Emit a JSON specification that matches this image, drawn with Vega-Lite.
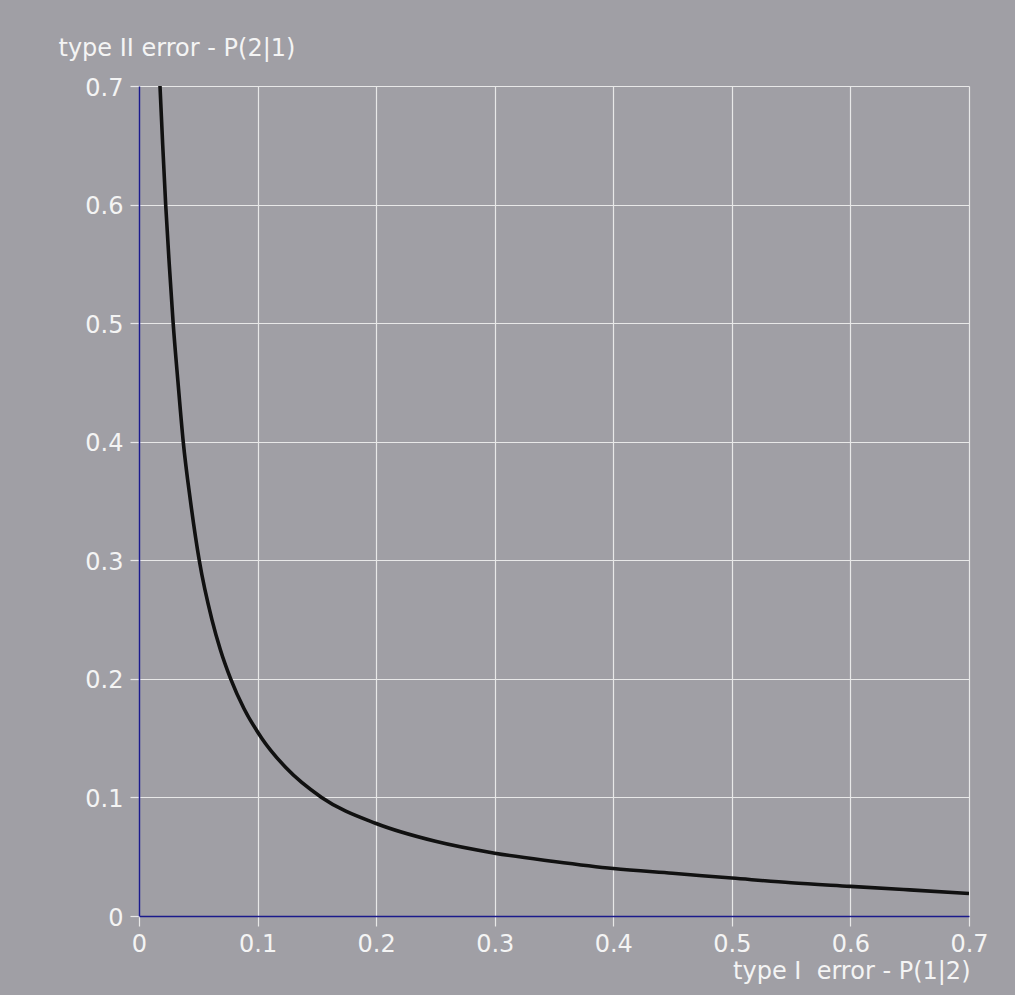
{
  "$schema": "https://vega.github.io/schema/vega-lite/v6.json",
  "width": 830,
  "height": 830,
  "autosize": "none",
  "padding": {"left": 139, "top": 86, "right": 46, "bottom": 79},
  "background": "#a09fa5",
  "config": {
    "view": {"stroke": null},
    "font": "DejaVu Sans",
    "axis": {
      "grid": true,
      "gridColor": "#e8e8e8",
      "gridWidth": 1.2,
      "gridOpacity": 1,
      "domainColor": "#1a1a8c",
      "domainWidth": 1.5,
      "tickColor": "#e8e8e8",
      "tickWidth": 1.2,
      "labelColor": "#f4f4f4",
      "labelFont": "DejaVu Sans",
      "labelFontSize": 24,
      "titleColor": "#f4f4f4",
      "titleFont": "DejaVu Sans",
      "titleFontSize": 24,
      "titleFontWeight": "normal"
    }
  },
  "data": {
    "values": [
      {"p12": 0.0177, "p21": 0.70},
      {"p12": 0.0200, "p21": 0.65},
      {"p12": 0.0225, "p21": 0.60},
      {"p12": 0.0255, "p21": 0.55},
      {"p12": 0.0288, "p21": 0.50},
      {"p12": 0.0329, "p21": 0.45},
      {"p12": 0.0373, "p21": 0.40},
      {"p12": 0.0434, "p21": 0.35},
      {"p12": 0.0508, "p21": 0.30},
      {"p12": 0.0615, "p21": 0.25},
      {"p12": 0.0685, "p21": 0.225},
      {"p12": 0.0773, "p21": 0.20},
      {"p12": 0.0885, "p21": 0.175},
      {"p12": 0.1035, "p21": 0.15},
      {"p12": 0.1240, "p21": 0.125},
      {"p12": 0.1540, "p21": 0.100},
      {"p12": 0.2000, "p21": 0.078},
      {"p12": 0.2500, "p21": 0.063},
      {"p12": 0.3000, "p21": 0.053},
      {"p12": 0.3500, "p21": 0.046},
      {"p12": 0.4000, "p21": 0.040},
      {"p12": 0.4500, "p21": 0.036},
      {"p12": 0.5000, "p21": 0.032},
      {"p12": 0.5500, "p21": 0.028},
      {"p12": 0.6000, "p21": 0.025},
      {"p12": 0.6500, "p21": 0.022},
      {"p12": 0.7000, "p21": 0.019}
    ]
  },
  "mark": {"type": "line", "color": "#111111", "strokeWidth": 3.6, "interpolate": "monotone", "clip": true},
  "encoding": {
    "x": {
      "field": "p12",
      "type": "quantitative",
      "scale": {"domain": [0, 0.7], "nice": false, "zero": false},
      "axis": {
        "values": [0, 0.1, 0.2, 0.3, 0.4, 0.5, 0.6, 0.7],
        "format": ".1~f",
        "tickSize": 10,
        "labelPadding": 6,
        "labelBaseline": "top",
        "labelFlush": false,
        "title": "type I\u00a0\u00a0error - P(1|2)",
        "titleAnchor": "end",
        "titleAlign": "right",
        "titleBaseline": "alphabetic",
        "titleX": 831,
        "titleY": 62
      }
    },
    "y": {
      "field": "p21",
      "type": "quantitative",
      "scale": {"domain": [0, 0.7], "nice": false, "zero": false},
      "axis": {
        "values": [0, 0.1, 0.2, 0.3, 0.4, 0.5, 0.6, 0.7],
        "format": ".1~f",
        "tickSize": 9,
        "labelPadding": 7,
        "labelOffset": 2,
        "labelFlush": false,
        "title": "type II error - P(2|1)",
        "titleAngle": 0,
        "titleAlign": "left",
        "titleBaseline": "alphabetic",
        "titleX": -81,
        "titleY": -31
      }
    }
  }
}
